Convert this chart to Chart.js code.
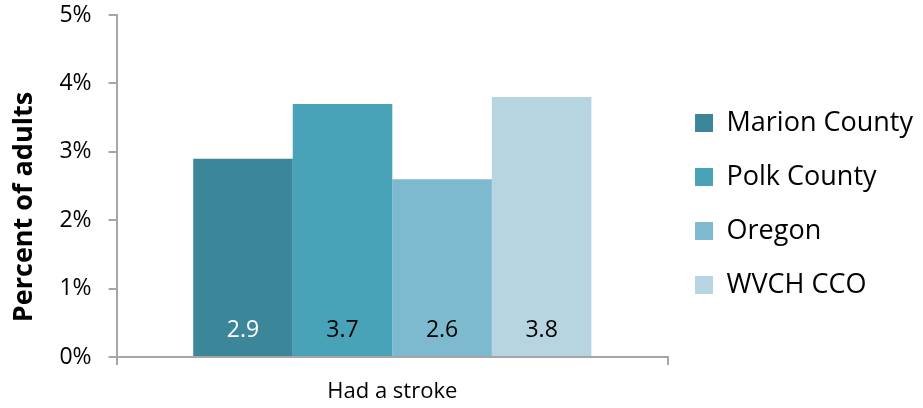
<!DOCTYPE html>
<html>
<head>
<meta charset="utf-8">
<script src="https://cdn.jsdelivr.net/npm/chart.js@4"></script>
<style>
  html, body { margin: 0; padding: 0; background: #fff; }
  #wrap { width: 923px; height: 408px; }
</style>
</head>
<body>
<div id="wrap"><canvas id="strokeChart"></canvas></div>
<script>
// categories and series
const categories = ['Had a stroke'];
const seriesNames = ['Marion County', 'Polk County', 'Oregon', 'WVCH CCO'];
const marionValues = [2.9];
const polkValues = [3.7];
const oregonValues = [2.6];
const wvchValues = [3.8];
const yTicks = [0, 1, 2, 3, 4, 5];

const seriesColors = ['#3b8799', '#48a2b8', '#7ebacf', '#b6d5e0'];
const labelColors = ['#ffffff', '#000000', '#000000', '#000000'];
const FONT = "'Open Sans', sans-serif";

// draw the value inside each bar near the bottom
const barLabels = {
    id: 'barLabels',
    afterDatasetsDraw(chart) {
        const ctx = chart.ctx;
        const yScale = chart.scales.y;
        ctx.save();
        ctx.font = '23px ' + FONT;
        ctx.textAlign = 'center';
        ctx.textBaseline = 'middle';
        chart.data.datasets.forEach((ds, i) => {
            chart.getDatasetMeta(i).data.forEach((bar, j) => {
                ctx.fillStyle = labelColors[i];
                ctx.fillText(ds.data[j].toFixed(1), bar.x, yScale.getPixelForValue(0) - 27);
            });
        });
        ctx.restore();
    }
};

const allValues = [marionValues, polkValues, oregonValues, wvchValues];

new Chart(document.getElementById('strokeChart').getContext('2d'), {
    type: 'bar',
    data: {
        labels: categories,
        datasets: seriesNames.map((name, i) => ({
            label: name,
            data: allValues[i],
            backgroundColor: seriesColors[i],
            borderWidth: 0,
            categoryPercentage: 0.722,
            barPercentage: 1
        }))
    },
    options: {
        responsive: true,
        maintainAspectRatio: false,
        animation: false,
        layout: { padding: { top: 0, left: 8, right: 0, bottom: 0 } },
        plugins: {
            tooltip: { enabled: false },
            legend: {
                position: 'right',
                align: 'center',
                maxWidth: 300,
                labels: {
                    boxWidth: 18,
                    boxHeight: 18,
                    padding: 27,
                    color: '#000',
                    font: { family: FONT, size: 27 }
                }
            }
        },
        scales: {
            x: {
                afterFit(scale) {
                    scale.height = 51;
                },
                grid: {
                    drawOnChartArea: false,
                    color: '#a6a6a6',
                    lineWidth: 2,
                    tickLength: 8
                },
                border: { color: '#a6a6a6', width: 2 },
                ticks: { color: '#000', font: { family: FONT, size: 22 }, padding: 14 }
            },
            y: {
                min: 0,
                max: 5,
                afterBuildTicks(scale) {
                    scale.ticks = yTicks.map(v => ({ value: v }));
                },
                afterFit(scale) {
                    // top of the plot sits 15px below the edge, 5% label overhangs
                    scale.paddingTop = 15;
                },
                grid: {
                    drawOnChartArea: false,
                    color: '#a6a6a6',
                    lineWidth: 2,
                    tickLength: 8
                },
                border: { color: '#a6a6a6', width: 2 },
                ticks: {
                    color: '#000',
                    font: { family: FONT, size: 23 },
                    padding: 17,
                    callback: v => v + '%'
                },
                title: {
                    display: true,
                    // trailing spaces push the title down a bit, as in the original
                    text: 'Percent of adults\u00a0\u00a0\u00a0\u00a0\u00a0\u00a0',
                    color: '#000',
                    font: { family: FONT, size: 27, weight: 'bold' },
                    padding: { top: 0, bottom: 2 }
                }
            }
        }
    },
    plugins: [barLabels]
});
</script>
</body>
</html>
